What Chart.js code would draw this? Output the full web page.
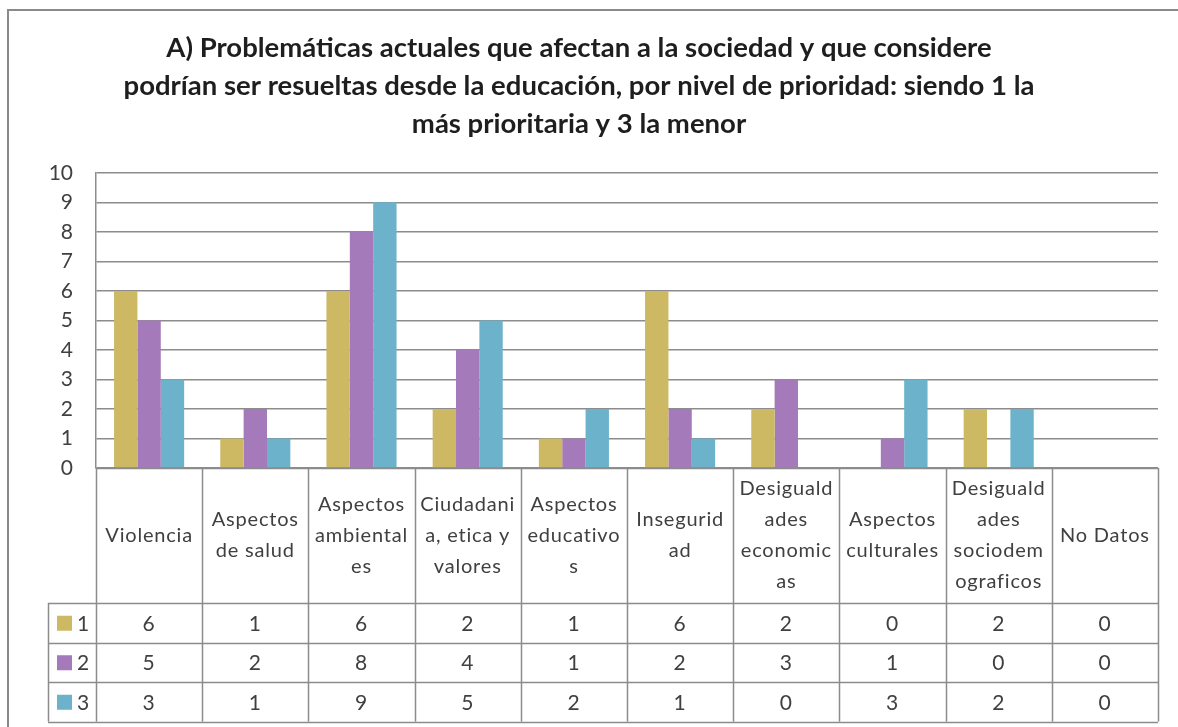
<!DOCTYPE html>
<html>
<head>
<meta charset="utf-8">
<script src="https://cdn.jsdelivr.net/npm/chart.js@4.4.1/dist/chart.umd.min.js"></script>
<style>
  html, body { margin: 0; padding: 0; background: #fff; }
  #wrap { position: absolute; left: 0; top: 0; width: 1178px; height: 727px; }
</style>
</head>
<body>
<div id="wrap"><canvas id="grafico" width="1178" height="727"></canvas></div>
<script>
// categorías (cada una partida en líneas como en la tabla de datos)
const categorias = [
  ['Violencia'],
  ['Aspectos', 'de salud'],
  ['Aspectos', 'ambiental', 'es'],
  ['Ciudadani', 'a, etica y', 'valores'],
  ['Aspectos', 'educativo', 's'],
  ['Insegurid', 'ad'],
  ['Desiguald', 'ades', 'economic', 'as'],
  ['Aspectos', 'culturales'],
  ['Desiguald', 'ades', 'sociodem', 'ograficos'],
  ['No Datos']
];
const niveles = ['1', '2', '3'];
const prioridad1 = [6, 1, 6, 2, 1, 6, 2, 0, 2, 0];
const prioridad2 = [5, 2, 8, 4, 1, 2, 3, 1, 0, 0];
const prioridad3 = [3, 1, 9, 5, 2, 1, 0, 3, 2, 0];
const colores = ['#cdb864', '#a47aba', '#6cb2cb'];
const titulo = [
  'A) Problemáticas actuales que afectan a la sociedad y que considere',
  'podrían ser resueltas desde la educación, por nivel de prioridad: siendo 1 la',
  'más prioritaria y 3 la menor'
];

const gris = '#8c8c8c';
const textoColor = '#404040';
const fuente = 'Lato, "Open Sans", sans-serif';

// marco del gráfico + tabla de datos debajo del eje
const tablaDatos = {
  id: 'tablaDatos',
  beforeDraw(chart) {
    const ctx = chart.ctx;
    ctx.save();
    ctx.strokeStyle = '#8a8a8a';
    ctx.lineWidth = 2;
    ctx.beginPath();
    ctx.moveTo(8, 740);
    ctx.lineTo(8, 10);
    ctx.lineTo(1190, 10);
    ctx.stroke();
    ctx.restore();
  },
  afterDraw(chart) {
    const ctx = chart.ctx;
    const area = chart.chartArea;
    const n = categorias.length;
    const colW = (area.right - area.left) / n;
    const top = area.bottom;
    const headH = 135;
    const rowH = 39.5;
    const leftKey = 48;
    const bottom = top + headH + rowH * niveles.length;

    ctx.save();
    ctx.strokeStyle = gris;
    ctx.lineWidth = 1.5;
    ctx.beginPath();
    // líneas verticales
    for (let i = 0; i <= n; i++) {
      const x = Math.round(area.left + i * colW) + 0.5;
      ctx.moveTo(x, top);
      ctx.lineTo(x, bottom);
    }
    ctx.moveTo(leftKey + 0.5, top + headH);
    ctx.lineTo(leftKey + 0.5, bottom);
    // líneas horizontales
    ctx.moveTo(area.left, top + 0.5);
    ctx.lineTo(area.right, top + 0.5);
    for (let r = 0; r <= niveles.length; r++) {
      const y = Math.round(top + headH + r * rowH) + 0.5;
      ctx.moveTo(leftKey, y);
      ctx.lineTo(area.right, y);
    }
    ctx.stroke();

    ctx.fillStyle = textoColor;
    ctx.textAlign = 'center';
    ctx.textBaseline = 'middle';
    ctx.font = '20px ' + fuente;
    if ('letterSpacing' in ctx) ctx.letterSpacing = '0.8px';

    // encabezados de categoría
    const lh = 31;
    categorias.forEach((lineas, i) => {
      const cx = chart.scales.x.getPixelForValue(i);
      const y0 = top + headH / 2 - (lineas.length - 1) * lh / 2;
      lineas.forEach((t, k) => ctx.fillText(t, cx, y0 + k * lh));
    });

    // filas de valores
    ctx.font = '21px ' + fuente;
    chart.data.datasets.forEach((ds, r) => {
      const cy = top + headH + r * rowH + rowH / 2;
      ctx.fillStyle = ds.backgroundColor;
      ctx.fillRect(57, cy - 7, 15, 15);
      ctx.fillStyle = textoColor;
      ctx.textAlign = 'left';
      ctx.fillText(ds.label, 77, cy + 1);
      ctx.textAlign = 'center';
      ds.data.forEach((v, i) => {
        ctx.fillText(String(v), chart.scales.x.getPixelForValue(i), cy + 1);
      });
    });
    ctx.restore();
  }
};

new Chart(document.getElementById('grafico'), {
  type: 'bar',
  data: {
    labels: categorias,
    datasets: [
      { label: niveles[0], data: prioridad1, backgroundColor: colores[0] },
      { label: niveles[1], data: prioridad2, backgroundColor: colores[1] },
      { label: niveles[2], data: prioridad3, backgroundColor: colores[2] }
    ]
  },
  options: {
    responsive: false,
    animation: false,
    datasets: {
      bar: { categoryPercentage: 0.66, barPercentage: 1.0, borderWidth: 0 }
    },
    layout: { padding: { left: 0, right: 20, top: 0, bottom: 251 } },
    plugins: {
      legend: { display: false },
      tooltip: { enabled: false },
      title: {
        display: true,
        text: titulo,
        color: '#1e1e1e',
        font: { family: fuente, size: 27.5, weight: 'bold', lineHeight: 1.38 },
        padding: { top: 29, bottom: 30 }
      }
    },
    scales: {
      x: {
        ticks: { display: false },
        grid: { display: false },
        border: { display: false }
      },
      y: {
        min: 0,
        max: 10,
        ticks: {
          stepSize: 1,
          padding: 23,
          color: textoColor,
          font: { family: fuente, size: 21 }
        },
        grid: { color: gris, lineWidth: 1.5, drawTicks: false },
        border: { display: true, color: gris, width: 1.5 },
        afterFit(scale) { scale.width = 96; }
      }
    }
  },
  plugins: [tablaDatos]
});
</script>
</body>
</html>
